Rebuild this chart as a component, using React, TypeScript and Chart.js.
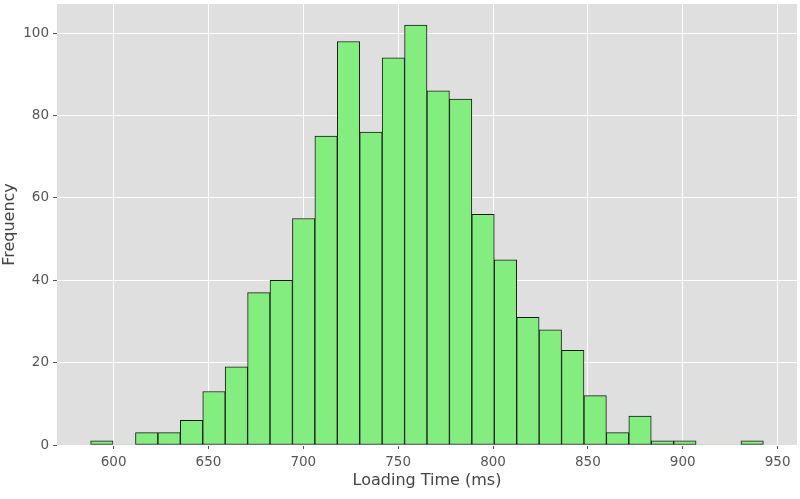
import React, { useEffect, useRef } from "react";
import { Chart, registerables } from "chart.js";

Chart.register(...registerables);

// Histogram bins (equal width)
const binStart = 587.9;
const binWidth = 11.82;
const counts = [1, 0, 3, 3, 6, 13, 19, 37, 40, 55, 75, 98, 76, 94, 102, 86, 84, 56, 45, 31, 28, 23, 12, 3, 7, 1, 1, 0, 0, 1];
const xTicks = [600, 650, 700, 750, 800, 850, 900, 950];
const yTicks = [0, 20, 40, 60, 80, 100];
const xLabel = "Loading Time (ms)";
const yLabel = "Frequency";

const bgPlugin = {
  id: "plotBg",
  beforeDraw(chart: any) {
    const { ctx, chartArea } = chart;
    ctx.save();
    ctx.fillStyle = "#DFDFDF";
    ctx.fillRect(chartArea.left, chartArea.top, chartArea.right - chartArea.left, chartArea.bottom - chartArea.top);
    ctx.restore();
  },
};

export default function App() {
  const ref = useRef<HTMLCanvasElement>(null);
  useEffect(() => {
    document.body.style.margin = "0";
    const data = counts.map((c, i) => ({ x: binStart + binWidth * (i + 0.5), y: c }));
    const xmin = binStart - 0.05 * binWidth * counts.length;
    const xmax = binStart + binWidth * counts.length * 1.05;
    const ymax = Math.max(...counts) * 1.05;
    const chart = new Chart(ref.current!, {
      type: "bar",
      data: {
        datasets: [
          {
            data: data as any,
            backgroundColor: "#83EE7F",
            borderColor: "#1A1A1A",
            borderWidth: ((c: any) => (c.raw && c.raw.y === 0 ? 0 : 1)) as any,
            borderSkipped: false,
            barPercentage: 1,
            categoryPercentage: 1,
          },
        ],
      },
      options: {
        animation: false,
        responsive: false,
        maintainAspectRatio: false,
        layout: { padding: { top: 4, right: 3, left: 0, bottom: 0 } },
        plugins: { legend: { display: false }, tooltip: { enabled: false } },
        scales: {
          x: {
            type: "linear",
            offset: false,
            min: xmin,
            max: xmax,
            afterBuildTicks: (axis: any) => {
              axis.ticks = xTicks.map((v) => ({ value: v }));
            },
            afterFit: (axis: any) => {
              axis.height = 54;
              axis.paddingLeft = 0;
              axis.paddingRight = 0;
            },
            grid: { offset: false, color: "#FFFFFF", lineWidth: 1, tickColor: "#555555", tickLength: 4, drawTicks: true },
            border: { display: false },
            ticks: { color: "#555555", font: { family: "DejaVu Sans", size: 13.5 }, padding: 5, maxRotation: 0, autoSkip: false },
            title: {
              display: true,
              text: xLabel,
              color: "#444444",
              font: { family: "DejaVu Sans", size: 16 },
              padding: { top: 0, bottom: 9 },
            },
          },
          y: {
            type: "linear",
            min: 0,
            max: ymax,
            afterBuildTicks: (axis: any) => {
              axis.ticks = yTicks.map((v) => ({ value: v }));
            },
            afterFit: (axis: any) => {
              axis.width = 57;
              axis.paddingTop = 0;
              axis.paddingBottom = 0;
            },
            grid: { color: "#FFFFFF", lineWidth: 1, tickColor: "#555555", tickLength: 4, drawTicks: true },
            border: { display: false },
            ticks: { color: "#555555", font: { family: "DejaVu Sans", size: 13.5 }, padding: 4, autoSkip: false },
            title: {
              display: true,
              text: yLabel,
              color: "#444444",
              font: { family: "DejaVu Sans", size: 16 },
              padding: { top: 0, bottom: 4 },
            },
          },
        },
      },
      plugins: [bgPlugin],
    });
    return () => chart.destroy();
  }, []);
  return (
    <div style={{ width: 800, height: 499 }}>
      <canvas ref={ref} width={800} height={499} style={{ width: 800, height: 499, display: "block" }} />
    </div>
  );
}
